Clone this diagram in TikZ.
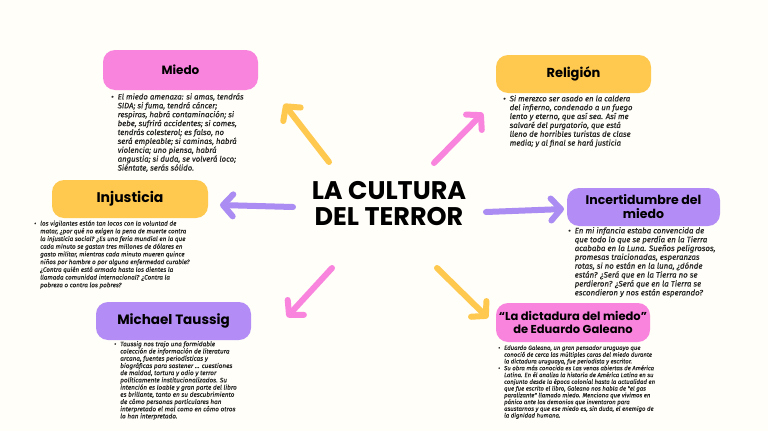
\documentclass[tikz,border=0pt]{standalone}
\usepackage{fontspec}
\setmainfont{Fira Sans}
\newfontfamily\headfont{Poppins}
\newfontfamily\notefont{Fira Sans}[ItalicFeatures={FakeBold=0.6}]
\usetikzlibrary{arrows.meta, positioning}
\definecolor{paper}{HTML}{FFFEF8}
\definecolor{ink}{HTML}{262626}
\definecolor{rosa}{HTML}{F984DE}
\definecolor{amarillo}{HTML}{FFC94F}
\definecolor{lila}{HTML}{B48CF5}
\definecolor{lilaarr}{HTML}{AA8CF3}
\newcommand{\notesize}[2]{\notefont\fontsize{#1}{#2}\selectfont\itshape}

\begin{document}
\begin{tikzpicture}[
    x=1pt, y=-1pt,
    box/.style={rounded corners=12pt, minimum width=155pt, minimum height=38pt, align=center, inner sep=2pt, font=\headfont\bfseries},
    note/.style={anchor=north west, inner sep=0pt, text=ink},
    arr/.style={line width=6pt, line cap=round, -{Straight Barb[round, length=10pt, width=22pt]}}
]
    % paper
    \fill[paper] (0,0) rectangle (768,431);
    \useasboundingbox (0,0) rectangle (768,431);

    % centre title
    \node[font=\headfont\bfseries\fontsize{25.5}{26}\selectfont, align=center] (title) at (389,204) {LA CULTURA\\DEL TERROR};

    % topic boxes
    \node[box, fill=rosa, minimum height=40pt, font=\headfont\bfseries\fontsize{12}{14}\selectfont] (miedo) at (180.5,70) {Miedo};
    \node[box, fill=amarillo, font=\headfont\bfseries\fontsize{13}{15}\selectfont] (religion) at (573.5,74) {Religión};
    \node[box, fill=amarillo, minimum width=156pt, font=\headfont\bfseries\fontsize{14}{16}\selectfont] (injusticia) at (130,199) {Injusticia};
    \node[box, fill=lila, minimum width=153pt, font=\headfont\bfseries\fontsize{12.5}{14}\selectfont] (incert) at (643.5,207) {Incertidumbre del\\miedo};
    \node[box, fill=lila, font=\headfont\bfseries\fontsize{13.5}{15}\selectfont] (taussig) at (173.5,321) {Michael Taussig};
    \node[box, fill=rosa, minimum width=154pt, minimum height=39pt, font=\headfont\bfseries\fontsize{11.5}{13}\selectfont] (galeano) at (573,322.5) {“La dictadura del miedo”\\de Eduardo Galeano};

    % notes under each box
    \node[note, font=\notesize{7.8}{8.8}] (miedotxt) at (111,93) {\begin{tabular}{@{}l@{\hspace{4pt}}l@{}}
        \textbullet & El miedo amenaza: si amas, tendrás\\
        & SIDA; si fuma, tendrá cáncer;\\
        & respiras, habrá contaminación; si\\
        & bebe, sufrirá accidentes; si comes,\\
        & tendrás colesterol; es falso, no\\
        & será empleable; si caminas, habrá\\
        & violencia; uno piensa, habrá\\
        & angustia; si duda, se volverá loco;\\
        & Siéntate, serás sólido.
    \end{tabular}};
    \node[note, font=\notesize{7.8}{8.8}] (religiontxt) at (503,95) {\begin{tabular}{@{}l@{\hspace{4pt}}l@{}}
        \textbullet & Si merezco ser asado en la caldera\\
        & del infierno, condenado a un fuego\\
        & lento y eterno, que así sea. Así me\\
        & salvaré del purgatorio, que está\\
        & lleno de horribles turistas de clase\\
        & media; y al final se hará justicia
    \end{tabular}};
    \node[note, font=\notesize{6.3}{7.7}] (injusticiatxt) at (34,220) {\begin{tabular}{@{}l@{\hspace{4pt}}l@{}}
        \textbullet & los vigilantes están tan locos con la voluntad de\\
        & matar, ¿por qué no exigen la pena de muerte contra\\
        & la injusticia social? ¿Es una feria mundial en la que\\
        & cada minuto se gastan tres millones de dólares en\\
        & gasto militar, mientras cada minuto mueren quince\\
        & niños por hambre o por alguna enfermedad curable?\\
        & ¿Contra quién está armada hasta los dientes la\\
        & llamada comunidad internacional? ¿Contra la\\
        & pobreza o contra los pobres?
    \end{tabular}};
    \node[note, font=\notesize{7.9}{8.6}] (inserttxt) at (568,227) {\begin{tabular}{@{}l@{\hspace{4pt}}l@{}}
        \textbullet & En mi infancia estaba convencida de\\
        & que todo lo que se perdía en la Tierra\\
        & acababa en la Luna. Sueños peligrosos,\\
        & promesas traicionadas, esperanzas\\
        & rotas, si no están en la luna, ¿dónde\\
        & están? ¿Será que en la Tierra no se\\
        & perdieron? ¿Será que en la Tierra se\\
        & escondieron y nos están esperando?
    \end{tabular}};
    \node[note, font=\notesize{6.4}{7.1}] (taussigtxt) at (114,341) {\begin{tabular}{@{}l@{\hspace{4pt}}l@{}}
        \textbullet & Taussig nos trajo una formidable\\
        & colección de información de literatura\\
        & arcana, fuentes periodísticas y\\
        & biográficas para sostener ... cuestiones\\
        & de maldad, tortura y odio y terror\\
        & políticamente institucionalizados. Su\\
        & intención es loable y gran parte del libro\\
        & es brillante, tanto en su descubrimiento\\
        & de cómo personas particulares han\\
        & interpretado el mal como en cómo otros\\
        & lo han interpretado.
    \end{tabular}};
    \node[note, font=\notesize{6.0}{6.7}] (galeanotxt) at (498,345) {\begin{tabular}{@{}l@{\hspace{4pt}}l@{}}
        \textbullet & Eduardo Galeano, un gran pensador uruguayo que\\
        & conoció de cerca las múltiples caras del miedo durante\\
        & la dictadura uruguaya, fue periodista y escritor.\\
        \textbullet & Su obra más conocida es Las venas abiertas de América\\
        & Latina. En él analiza la historia de América Latina en su\\
        & conjunto desde la época colonial hasta la actualidad en\\
        & que fue escrito el libro, Galeano nos habla de "el gas\\
        & paralizante" llamado miedo. Menciona que vivimos en\\
        & pánico ante los demonios que inventaron para\\
        & asustarnos y que ese miedo es, sin duda, el enemigo de\\
        & la dignidad humana.
    \end{tabular}};

    % arrow ends
    \coordinate (a1s) at (329,162); \coordinate (a1e) at (284,104);
    \coordinate (a2s) at (434,163); \coordinate (a2e) at (483,113);
    \coordinate (a3s) at (293,207); \coordinate (a3e) at (220,205);
    \coordinate (a4s) at (486,212); \coordinate (a4e) at (564,209);
    \coordinate (a5s) at (332,268); \coordinate (a5e) at (287,317);
    \coordinate (a6s) at (437,268); \coordinate (a6e) at (488,318);

    \draw[arr, amarillo] (a1s) -- (a1e);
    \draw[arr, rosa] (a2s) -- (a2e);
    \draw[arr, lilaarr] (a3s) -- (a3e);
    \draw[arr, lilaarr] (a4s) -- (a4e);
    \draw[arr, rosa] (a5s) -- (a5e);
    \draw[arr, amarillo] (a6s) -- (a6e);
\end{tikzpicture}
\end{document}
